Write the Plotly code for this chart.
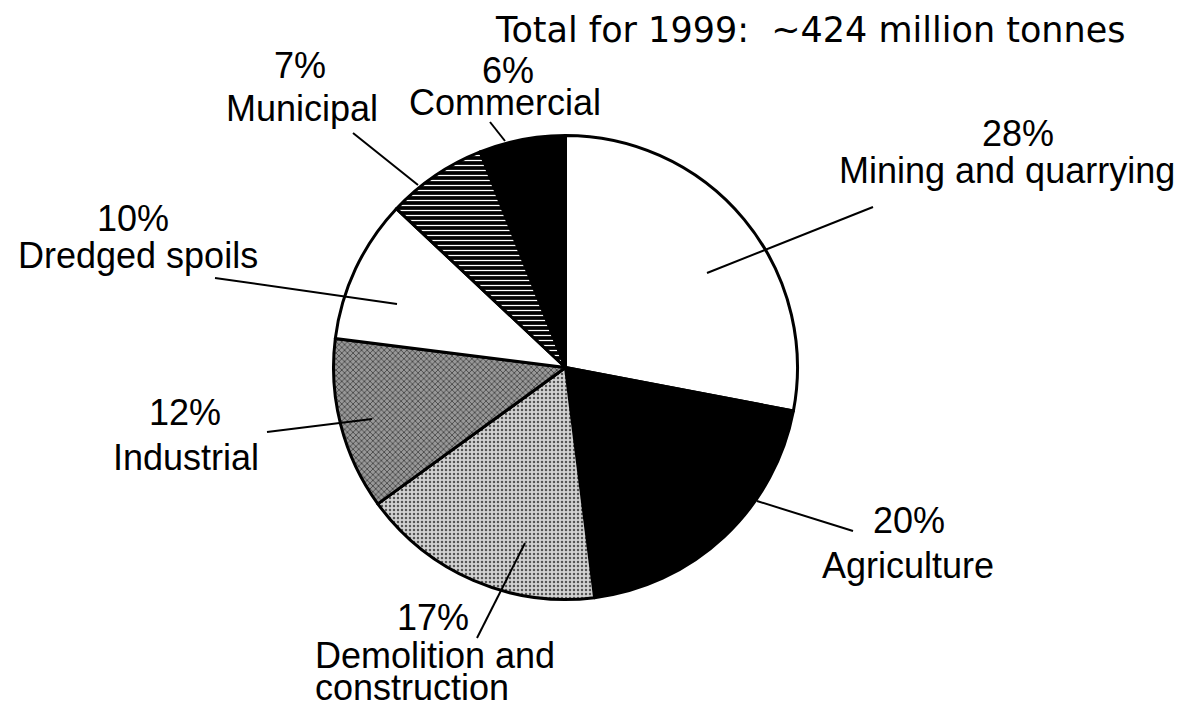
import plotly.graph_objects as go

# ---- data ----
categories = ["Mining and quarrying", "Agriculture", "Demolition and construction",
              "Industrial", "Dredged spoils", "Municipal", "Commercial"]
shares = [28, 20, 17, 12, 10, 7, 6]
title_text = "Total for 1999:  ~424 million tonnes"

# ---- style ----
PAGE_W, PAGE_H = 1184, 708
BODY = 8  # default page margin around the plot div
W, H = PAGE_W - 2 * BODY, PAGE_H - 2 * BODY
CX, CY, R = 565.5, 367.5, 232
FONT = "Liberation Sans, Arial, Helvetica, sans-serif"
FS = 36

fill_colors = ["white", "black", "#cfcfcf", "#9a9a9a", "white", "black", "black"]
pat_shape = ["", "", ".", "x", "", "-", ""]
pat_fg = ["black", "black", "#555555", "#2a2a2a", "black", "white", "black"]
pat_bg = ["white", "black", "#d2d2d2", "#989898", "white", "black", "black"]
pat_size = [6, 6, 4, 4, 6, 5, 6]
pat_sol = [0.3, 0.3, 0.3, 0.3, 0.3, 0.25, 0.3]


def px(x):
    return (x - BODY) / W


def py(y):
    return 1 - (y - BODY) / H


fig = go.Figure()
fig.add_trace(go.Pie(
    labels=categories, values=shares, sort=False, direction="clockwise", rotation=0,
    textinfo="none", hoverinfo="label+percent", showlegend=False,
    domain=dict(x=[px(CX - R), px(CX + R)], y=[py(CY + R), py(CY - R)]),
    marker=dict(colors=fill_colors, line=dict(color="black", width=3),
                pattern=dict(shape=pat_shape, fgcolor=pat_fg, bgcolor=pat_bg,
                             size=pat_size, solidity=pat_sol, fillmode="replace")),
))

# label layout (page pixels): text lines (text, x, y, xanchor) and leader line endpoints
label_layout = {
    "Mining and quarrying": dict(lines=[("28%", 1018, 133, "center"),
                                        ("Mining and quarrying", 1007, 170, "center")],
                                 leader=((707, 273), (873, 207))),
    "Agriculture": dict(lines=[("20%", 909, 520, "center"),
                               ("Agriculture", 908, 565, "center")],
                        leader=((757, 501), (853, 531))),
    "Demolition and construction": dict(lines=[("17%", 433, 617, "center"),
                                               ("Demolition and", 313, 655, "left"),
                                               ("construction", 313, 687, "left")],
                                        leader=((525, 543), (477, 638))),
    "Industrial": dict(lines=[("12%", 185, 412, "center"),
                              ("Industrial", 186, 457, "center")],
                       leader=((267, 432), (372, 419))),
    "Dredged spoils": dict(lines=[("10%", 133, 219, "center"),
                                  ("Dredged spoils", 138, 256, "center")],
                           leader=((215, 278), (397, 304))),
    "Municipal": dict(lines=[("7%", 300, 66, "center"),
                             ("Municipal", 302, 109, "center")],
                      leader=((353, 133), (418, 185))),
    "Commercial": dict(lines=[("6%", 508, 70, "center"),
                              ("Commercial", 505, 102, "center")],
                       leader=((490, 122), (505, 141))),
}

shapes = []
annotations = []
for cat, val in zip(categories, shares):
    lay = label_layout[cat]
    (x0, y0), (x1, y1) = lay["leader"]
    shapes.append(dict(type="line", xref="paper", yref="paper", x0=px(x0), y0=py(y0),
                       x1=px(x1), y1=py(y1), line=dict(color="black", width=2), layer="above"))
    for txt, tx, ty, xa in lay["lines"]:
        annotations.append(dict(text=txt, x=px(tx), y=py(ty), xref="paper", yref="paper",
                                xanchor=xa, yanchor="middle", showarrow=False,
                                font=dict(family=FONT, size=FS, color="black")))

annotations.append(dict(text=title_text, x=px(810), y=py(BODY), xref="paper", yref="paper",
                        xanchor="center", yanchor="top", showarrow=False,
                        font=dict(family="DejaVu Sans, Liberation Sans, sans-serif", size=35, color="black")))

fig.update_layout(
    width=W, height=H, margin=dict(l=0, r=0, t=0, b=0),
    paper_bgcolor="white", plot_bgcolor="white",
    shapes=shapes, annotations=annotations,
)

fig.write_html("out.html")
